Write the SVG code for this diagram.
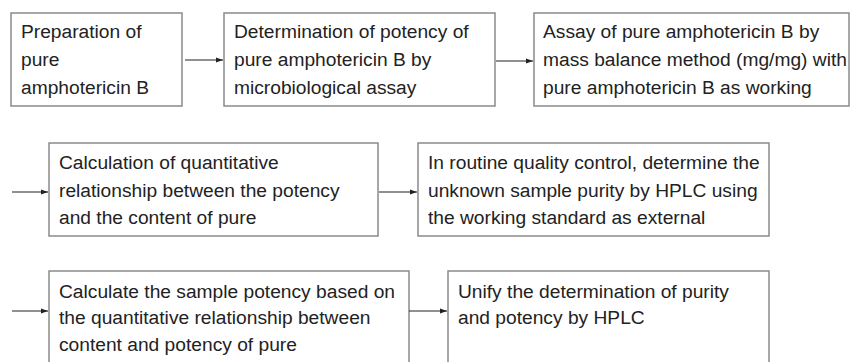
<svg xmlns="http://www.w3.org/2000/svg" width="850" height="362" viewBox="0 0 850 362">
<defs>
<marker id="ah" markerWidth="8" markerHeight="6" refX="7" refY="3" orient="auto" markerUnits="userSpaceOnUse">
<path d="M0,0.5 L7,3 L0,5.5 z" fill="#222"/>
</marker>
<style>
.box{fill:#fff;stroke:#8a8a8a;stroke-width:1.5}
.t{font-family:"Liberation Sans",Arial,sans-serif;font-size:19.2px;fill:#222}
.c{stroke:#222;stroke-width:1.2;fill:none;marker-end:url(#ah)}
</style>
</defs>
<rect width="850" height="362" fill="#fff"/>
<g id="n1"><rect class="box" x="11" y="13" width="171" height="93"/>
<text class="t" x="21"><tspan x="21" y="38">Preparation of</tspan><tspan x="21" y="66">pure</tspan><tspan x="21" y="94">amphotericin B</tspan></text></g>
<g id="n2"><rect class="box" x="224" y="13" width="271" height="93"/>
<text class="t"><tspan x="234" y="38">Determination of potency of</tspan><tspan x="234" y="66">pure amphotericin B by</tspan><tspan x="234" y="94">microbiological assay</tspan></text></g>
<g id="n3"><rect class="box" x="534" y="13" width="315" height="93"/>
<text class="t"><tspan x="543" y="38">Assay of pure amphotericin B by</tspan><tspan x="543" y="66">mass balance method (mg/mg) with</tspan><tspan x="543" y="94">pure amphotericin B as working</tspan></text></g>
<g id="n4"><rect class="box" x="49" y="143" width="329" height="93"/>
<text class="t"><tspan x="59" y="169">Calculation of quantitative</tspan><tspan x="59" y="197">relationship between the potency</tspan><tspan x="59" y="224">and the content of pure</tspan></text></g>
<g id="n5"><rect class="box" x="418" y="143" width="351" height="93"/>
<text class="t"><tspan x="428" y="169">In routine quality control, determine the</tspan><tspan x="428" y="197">unknown sample purity by HPLC using</tspan><tspan x="428" y="224">the working standard as external</tspan></text></g>
<g id="n6"><rect class="box" x="49" y="271" width="360" height="100"/>
<text class="t"><tspan x="59" y="298">Calculate the sample potency based on</tspan><tspan x="59" y="324">the quantitative relationship between</tspan><tspan x="59" y="351">content and potency of pure</tspan></text></g>
<g id="n7"><rect class="box" x="448" y="271" width="321" height="100"/>
<text class="t"><tspan x="458" y="298">Unify the determination of purity</tspan><tspan x="458" y="324">and potency by HPLC</tspan></text></g>
<g id="connectors">
<line class="c" x1="185" y1="60" x2="223" y2="60"/>
<line class="c" x1="496" y1="61" x2="533" y2="61"/>
<line class="c" x1="12" y1="192" x2="48" y2="192"/>
<line class="c" x1="379" y1="192" x2="417" y2="192"/>
<line class="c" x1="12" y1="311" x2="48" y2="311"/>
<line class="c" x1="409" y1="311" x2="447" y2="311"/>
</g>
</svg>
